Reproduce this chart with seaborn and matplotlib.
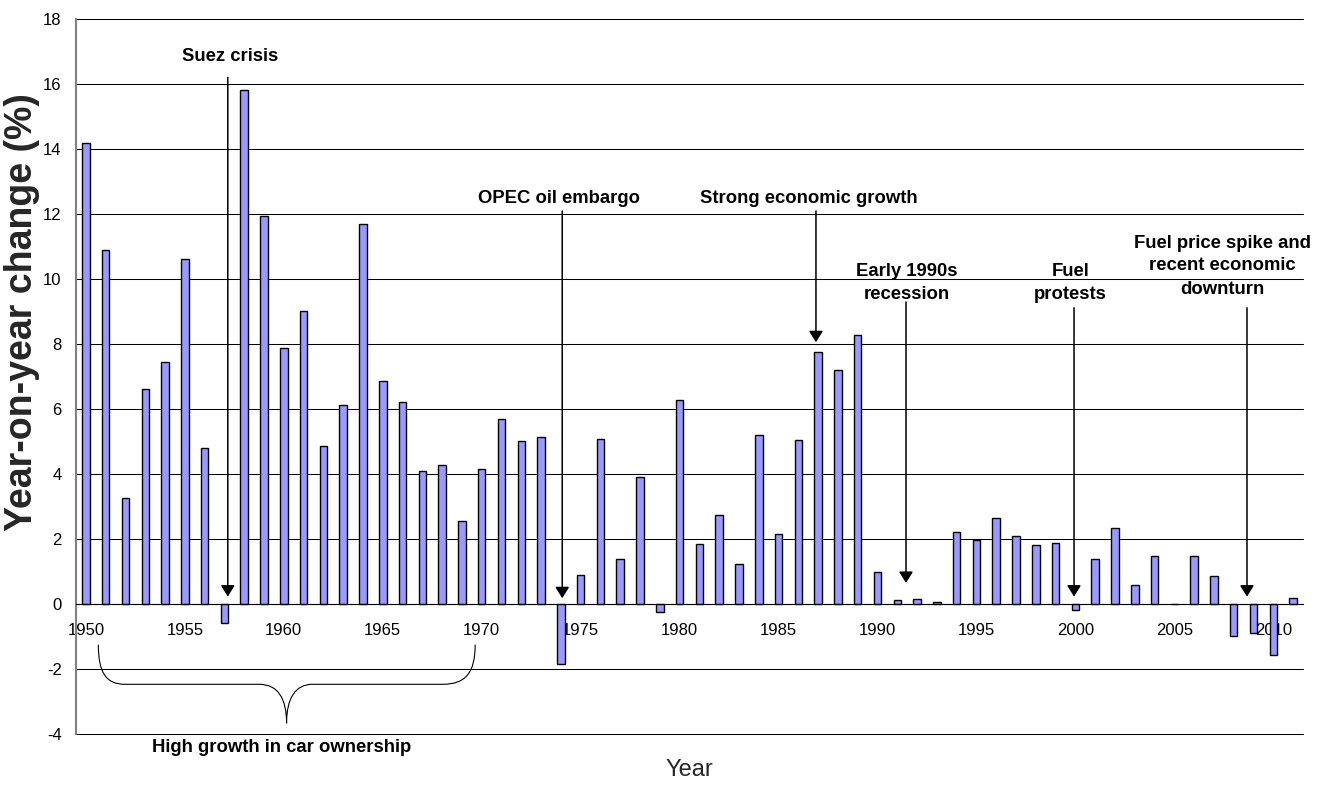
import matplotlib
matplotlib.use("Agg")
import matplotlib.pyplot as plt
from matplotlib.path import Path
from matplotlib.patches import PathPatch
from matplotlib.ticker import FixedLocator, NullFormatter
import pandas as pd
import seaborn as sns

# Year-on-year change in the number of licensed cars (%)
years = list(range(1950, 2012))
change_pct = [
    14.18, 10.90, 3.27, 6.62, 7.45, 10.62, 4.81, -0.59, 15.83, 11.93,   # 1950-1959
    7.88, 9.03, 4.87, 6.13, 11.69, 6.87, 6.23, 4.10, 4.29, 2.57,        # 1960-1969
    4.17, 5.70, 5.01, 5.13, -1.86, 0.90, 5.07, 1.39, 3.91, -0.26,       # 1970-1979
    6.29, 1.84, 2.73, 1.24, 5.19, 2.16, 5.04, 7.76, 7.20, 8.27,         # 1980-1989
    0.98, 0.14, 0.16, 0.05, 2.23, 1.96, 2.66, 2.08, 1.83, 1.87,         # 1990-1999
    -0.17, 1.38, 2.35, 0.59, 1.49, 0.00, 1.47, 0.87, -0.98, -0.89,      # 2000-2009
    -1.58, 0.19,                                                        # 2010-2011
]
label_years = [1950, 1955, 1960, 1965, 1970, 1975, 1980, 1985, 1990, 1995, 2000, 2005, 2010]
y_ticks = [-4, -2, 0, 2, 4, 6, 8, 10, 12, 14, 16, 18]

# Event callouts: text lines (with baselines), text centre, arrow x, arrow start / end
event_lines = [
    ["Suez crisis"],
    ["OPEC oil embargo"],
    ["Strong economic growth"],
    ["Early 1990s", "recession"],
    ["Fuel", "protests"],
    ["Fuel price spike and", "recent economic", "downturn"],
]
event_text_x = [7.28, 23.89, 36.54, 41.47, 49.76, 57.43]
event_baselines = [[16.71], [12.36], [12.36], [10.10, 9.38], [10.10, 9.38], [10.97, 10.27, 9.53]]
arrow_x = [7.17, 24.07, 36.89, 41.44, 49.93, 58.67]
arrow_from = [16.21, 12.10, 12.10, 9.30, 9.12, 9.12]
arrow_to = [0.23, 0.18, 8.06, 0.65, 0.23, 0.23]

bracket_label = "High growth in car ownership"

sns.set_style("white")
plt.rcParams["font.family"] = ["Liberation Sans", "DejaVu Sans"]

fig = plt.figure(figsize=(13.28, 7.86), dpi=100)
ax = fig.add_axes([0.05723, 0.06616, 0.92394, 0.90929])

df = pd.DataFrame({"year": years, "change": change_pct})
sns.barplot(data=df, x="year", y="change", color="#9999FF", saturation=1,
            width=0.38, edgecolor="black", linewidth=1.0, ax=ax, zorder=3)

ax.set_xlim(-0.5, len(years) - 0.5)
ax.set_ylim(-4, 18)
ax.set_yticks(y_ticks)
ax.set_yticklabels([str(t) for t in y_ticks])
ax.set_xlabel("")
ax.set_ylabel("")

# horizontal gridlines only
ax.set_axisbelow(True)
ax.yaxis.grid(True, color="black", linewidth=0.75)
ax.xaxis.grid(False)
for gl in ax.yaxis.get_gridlines():
    gl.set_clip_on(False)

for side in ("top", "right"):
    ax.spines[side].set_visible(False)
ax.spines["left"].set_color("#808080")
ax.spines["left"].set_linewidth(1.5)
ax.spines["bottom"].set_position(("data", 0))
ax.spines["bottom"].set_color("black")
ax.spines["bottom"].set_linewidth(0.8)
ax.spines["bottom"].set_zorder(4)

# category labels every five years, tick marks between categories
label_pos = [years.index(y) for y in label_years]
ax.xaxis.set_major_locator(FixedLocator(label_pos))
ax.set_xticklabels([str(y) for y in label_years])
ax.xaxis.set_minor_locator(FixedLocator([i - 0.5 for i in range(len(years) + 1)]))
ax.xaxis.set_minor_formatter(NullFormatter())
ax.tick_params(axis="x", which="major", length=0, pad=13.5, labelsize=12, labelcolor="black")
ax.tick_params(axis="x", which="minor", length=3.6, width=0.8, color="#404040", direction="out")
ax.tick_params(axis="y", which="major", length=4.3, width=0.8, color="#808080",
               direction="out", pad=6, labelsize=12, labelcolor="black")

# callout arrows and their captions
for lines, tx, bases, ax_x, y0, y1 in zip(event_lines, event_text_x, event_baselines,
                                          arrow_x, arrow_from, arrow_to):
    for line, base in zip(lines, bases):
        ax.text(tx, base, line, ha="center", va="baseline", fontsize=13.3,
                fontweight="bold", color="black", zorder=6)
    ax.annotate("", xy=(ax_x, y1), xytext=(ax_x, y0),
                arrowprops=dict(arrowstyle="-|>,head_length=0.67,head_width=0.42",
                                color="black", lw=1.1, mutation_scale=10,
                                shrinkA=0, shrinkB=0),
                zorder=6)

# curly brace spanning the 1950s and 1960s
brace_verts = [
    (0.63, -1.25),
    (0.63, -2.10), (1.00, -2.47), (1.98, -2.47),
    (8.75, -2.47),
    (9.70, -2.47), (10.14, -2.90), (10.14, -3.67),
    (10.14, -2.90), (10.58, -2.47), (11.46, -2.47),
    (18.03, -2.47),
    (19.20, -2.47), (19.67, -2.10), (19.67, -1.25),
]
brace_codes = [Path.MOVETO,
               Path.CURVE4, Path.CURVE4, Path.CURVE4,
               Path.LINETO,
               Path.CURVE4, Path.CURVE4, Path.CURVE4,
               Path.CURVE4, Path.CURVE4, Path.CURVE4,
               Path.LINETO,
               Path.CURVE4, Path.CURVE4, Path.CURVE4]
ax.add_patch(PathPatch(Path(brace_verts, brace_codes), facecolor="none",
                       edgecolor="black", linewidth=0.8, clip_on=False, zorder=6))
ax.text(9.91, -4.55, bracket_label, ha="center", va="baseline", fontsize=13.3,
        fontweight="bold", color="black", clip_on=False)

# axis titles
fig.text(689.5 / 1328, 1 - 770 / 786, "Year", ha="center", va="center", fontsize=17)
fig.text(22 / 1328, 1 - 312 / 786, "Year-on-year change (%)", rotation=90,
         ha="center", va="center", fontsize=27, fontweight="bold")

fig.savefig("out.png", dpi=100)
